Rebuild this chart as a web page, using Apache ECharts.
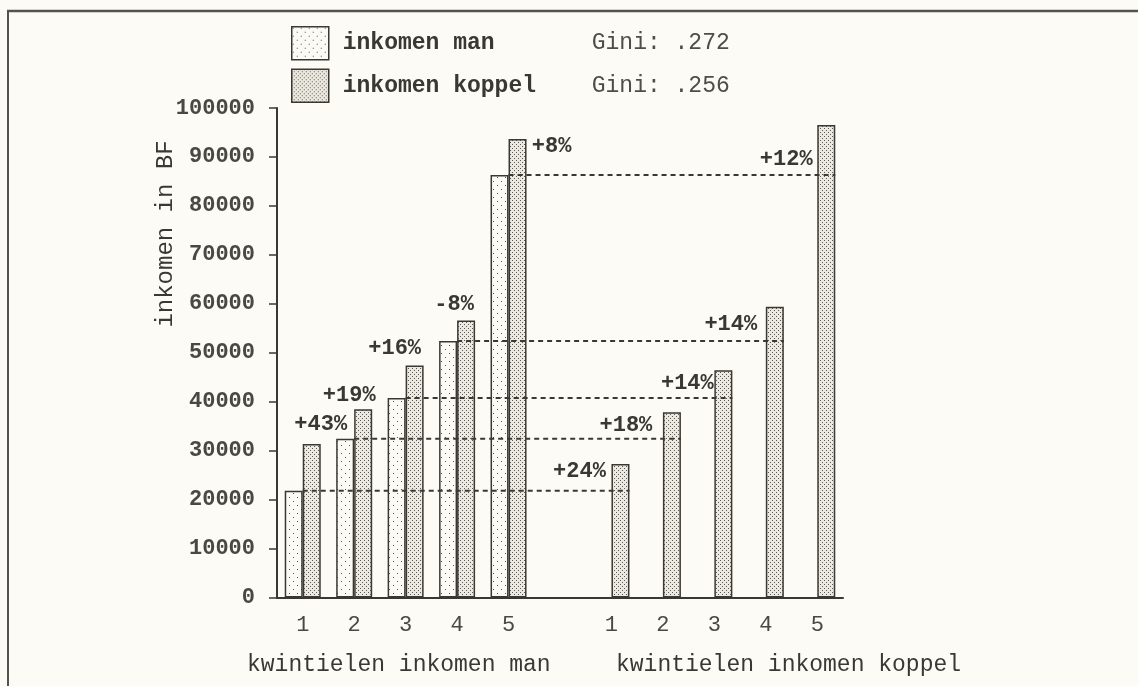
<!DOCTYPE html>
<html>
<head>
<meta charset="utf-8">
<script src="https://cdn.jsdelivr.net/npm/echarts@6/dist/echarts.min.js"></script>
<style>
  html, body { margin: 0; padding: 0; background: #fcfbf6; }
  #chart { width: 1138px; height: 686px; }
</style>
</head>
<body>
<div id="chart"></div>
<script>
// ---- data ----
const categories = ['m1', 'm2', 'm3', 'm4', 'm5', 'gap', 'k1', 'k2', 'k3', 'k4', 'k5'];
const tickLabels = ['1', '2', '3', '4', '5', '', '1', '2', '3', '4', '5'];
const seriesNames = ['inkomen man', 'inkomen koppel'];
const giniValues = ['.272', '.256'];
const manIncome = [21800, 32450, 40780, 52380, 86300, null, null, null, null, null, null];
const coupleIncome = [31350, 38450, 47400, 56600, 93670, null, 27270, 37840, 46440, 59420, 96540];
const changeLabels = ['+43%', '+19%', '+16%', '-8%', '+8%', '', '+24%', '+18%', '+14%', '+14%', '+12%'];
const refFromIndex = [0, 1, 2, 3, 4];
const refToIndex = [6, 7, 8, 9, 10];
const yAxisName = 'inkomen in BF';
const xAxisNames = ['kwintielen inkomen man', 'kwintielen inkomen koppel'];

// ---- styles ----
const FONT = '"Liberation Mono", "Courier New", monospace';
const INK = '#3a3833';
const labelOffsets = [[18, -20], [-5, -14], [-11, -17], [-3, -16], [43, 7], null,
                      [-32, 7], [-37, 13], [-27, 13], [-35, 18], [-31, 35]];

function makePattern(w, h, bg, dot, pts) {
  const c = document.createElement('canvas');
  c.width = w; c.height = h;
  const ctx = c.getContext('2d');
  ctx.fillStyle = bg; ctx.fillRect(0, 0, w, h);
  ctx.fillStyle = dot;
  pts.forEach(p => ctx.fillRect(p[0], p[1], 1, 1));
  return { image: c, repeat: 'repeat' };
}
const manFill = makePattern(8, 8, '#fbfaf4', '#55534e', [[1, 1], [5, 5]]);
const coupleFill = makePattern(4, 4, '#ebe9e0', '#5c5a54', [[0, 0], [2, 2]]);

const chart = echarts.init(document.getElementById('chart'), null, { renderer: 'canvas' });

const coupleData = coupleIncome.map((v, i) => {
  if (v == null) return null;
  const off = labelOffsets[i];
  return {
    value: v,
    label: {
      show: true, formatter: changeLabels[i], position: off,
      align: 'center', verticalAlign: 'middle',
      fontFamily: FONT, fontSize: 22, fontWeight: 'bold', color: INK
    }
  };
});

const refLines = refFromIndex.map((f, i) => [f, refToIndex[i], manIncome[f]]);

const option = {
  backgroundColor: '#fcfbf6',
  animation: false,
  grid: { left: 277, right: 295, top: 108, bottom: 88.5, containLabel: false },
  legend: {
    orient: 'vertical', left: 286, top: 21, itemWidth: 37, itemHeight: 33, itemGap: 8,
    icon: 'rect',
    itemStyle: { borderColor: INK, borderWidth: 1.5 },
    data: seriesNames,
    formatter: name => '{a|' + name + '}{b|Gini: ' + giniValues[seriesNames.indexOf(name)] + '}',
    textStyle: {
      fontFamily: FONT, fontSize: 23, color: INK,
      rich: {
        a: { fontFamily: FONT, fontSize: 23, fontWeight: 'bold', color: INK, width: 249, padding: [0, 0, 0, 9] },
        b: { fontFamily: FONT, fontSize: 23, color: '#4f4d48' }
      }
    }
  },
  xAxis: {
    type: 'category', data: categories,
    axisLine: { lineStyle: { color: INK, width: 2 } },
    axisTick: { alignWithLabel: true, interval: 0, length: 7, lineStyle: { color: INK, width: 1.5 } },
    axisLabel: {
      interval: 0, margin: 17, formatter: (v, i) => tickLabels[i],
      fontFamily: FONT, fontSize: 22, color: '#4a4843'
    }
  },
  yAxis: {
    type: 'value', min: 0, max: 100000, interval: 10000,
    splitLine: { show: false },
    axisLine: { show: true, lineStyle: { color: INK, width: 2 } },
    axisTick: { show: true, length: 8, lineStyle: { color: INK, width: 1.5 } },
    axisLabel: {
      margin: 22, formatter: v => String(v),
      fontFamily: FONT, fontSize: 22, fontWeight: 'bold', color: '#4a4843'
    }
  },
  series: [
    {
      name: seriesNames[0], type: 'bar', data: manIncome, barWidth: 18, barGap: '0%',
      itemStyle: { color: manFill, borderColor: INK, borderWidth: 1.5 }
    },
    {
      name: seriesNames[1], type: 'bar', data: coupleData, barWidth: 18, barGap: '0%',
      itemStyle: { color: coupleFill, borderColor: INK, borderWidth: 1.5 }
    },
    {
      type: 'custom', data: refLines, encode: { x: [0, 1], y: 2 }, z: 5, silent: true,
      renderItem: (params, api) => {
        const p1 = api.coord([api.value(0), api.value(2)]);
        const p2 = api.coord([api.value(1), api.value(2)]);
        return {
          type: 'line',
          shape: { x1: p1[0], y1: p1[1], x2: p2[0] + 18, y2: p2[1] },
          style: { stroke: INK, lineWidth: 2, lineDash: [5, 4] }
        };
      }
    }
  ],
  graphic: [
    { type: 'line', shape: { x1: 7, y1: 11, x2: 1138, y2: 11 }, style: { stroke: '#55534d', lineWidth: 2.5 } },
    { type: 'line', shape: { x1: 8, y1: 10, x2: 8, y2: 686 }, style: { stroke: '#55534d', lineWidth: 2 } },
    {
      type: 'text', x: 166, y: 234, rotation: Math.PI / 2,
      style: { text: yAxisName, font: '24px ' + FONT, fill: INK, align: 'center', verticalAlign: 'middle' }
    },
    {
      type: 'text', x: 247, y: 665,
      style: { text: xAxisNames[0], font: '23px ' + FONT, fill: INK, align: 'left', verticalAlign: 'middle' }
    },
    {
      type: 'text', x: 616, y: 665,
      style: { text: xAxisNames[1], font: '23px ' + FONT, fill: INK, align: 'left', verticalAlign: 'middle' }
    }
  ]
};
chart.setOption(option);
</script>
</body>
</html>
